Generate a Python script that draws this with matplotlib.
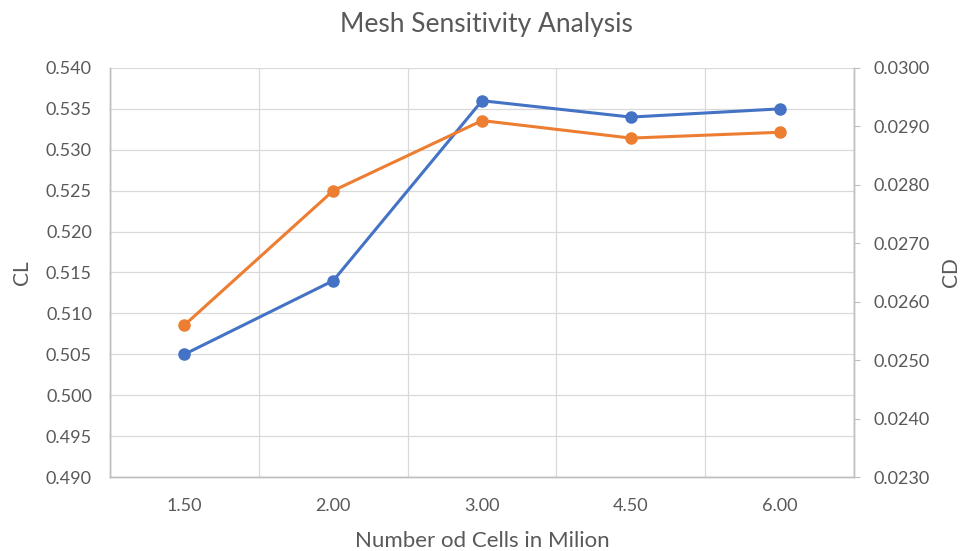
import matplotlib.pyplot as plt
import numpy as np

plt.rcParams['font.family'] = ['Lato', 'DejaVu Sans']

cells = ['1.50', '2.00', '3.00', '4.50', '6.00']
cl = [0.505, 0.514, 0.536, 0.534, 0.535]
cd = [0.0256, 0.0279, 0.0291, 0.0288, 0.0289]

blue = '#4472C4'
orange = '#ED7D31'
txt = '#595959'
grid = '#D9D9D9'
spine = '#BFBFBF'

fig = plt.figure(figsize=(9.72, 5.51), dpi=100)
ax = fig.add_axes([0.1132, 0.1343, 0.7654, 0.7423])
ax2 = ax.twinx()

x = np.arange(len(cells))
ax.plot(x, cl, '-o', color=blue, lw=2.2, ms=8, zorder=3)
ax2.plot(x, cd, '-o', color=orange, lw=2.2, ms=8, zorder=3)

ax.set_xlim(-0.5, len(cells) - 0.5)
ax.set_ylim(0.490, 0.540)
ax.set_yticks(np.arange(0.490, 0.5401, 0.005))
ax.set_yticklabels(['%.3f' % v for v in np.arange(0.490, 0.5401, 0.005)])
ax2.set_ylim(0.0230, 0.0300)
ax2.set_yticks(np.arange(0.0230, 0.03001, 0.001))
ax2.set_yticklabels(['%.4f' % v for v in np.arange(0.0230, 0.03001, 0.001)])

ax.set_xticks(x)
ax.set_xticklabels(cells)
ax.set_xticks(np.arange(-0.5, len(cells)), minor=True)

# gridlines: horizontal at CL ticks, vertical between categories
ax.grid(True, axis='y', which='major', color=grid, lw=0.9)
ax.grid(True, axis='x', which='minor', color=grid, lw=0.9)
ax.set_axisbelow(True)

ax.tick_params(axis='both', which='both', length=0, colors=txt, labelsize=13)
ax.tick_params(axis='x', pad=15)
ax.tick_params(axis='y', pad=13)
ax2.tick_params(axis='y', length=4, color=spine, colors=txt, labelsize=13, pad=10)
ax2.tick_params(axis='y', color=spine)

for a in (ax, ax2):
    a.spines['top'].set_visible(False)
    for s in ('left', 'right', 'bottom'):
        a.spines[s].set_color(spine)
        a.spines[s].set_linewidth(1.0)

ax.set_ylabel('CL', color=txt, fontsize=15, labelpad=10)
ax2.set_ylabel('CD', color=txt, fontsize=15, labelpad=8)
ax.set_xlabel('Number od Cells in Milion', color=txt, fontsize=16, labelpad=12)
fig.suptitle('Mesh Sensitivity Analysis', color=txt, fontsize=19, y=0.978)

fig.savefig('out.png', dpi=100)
